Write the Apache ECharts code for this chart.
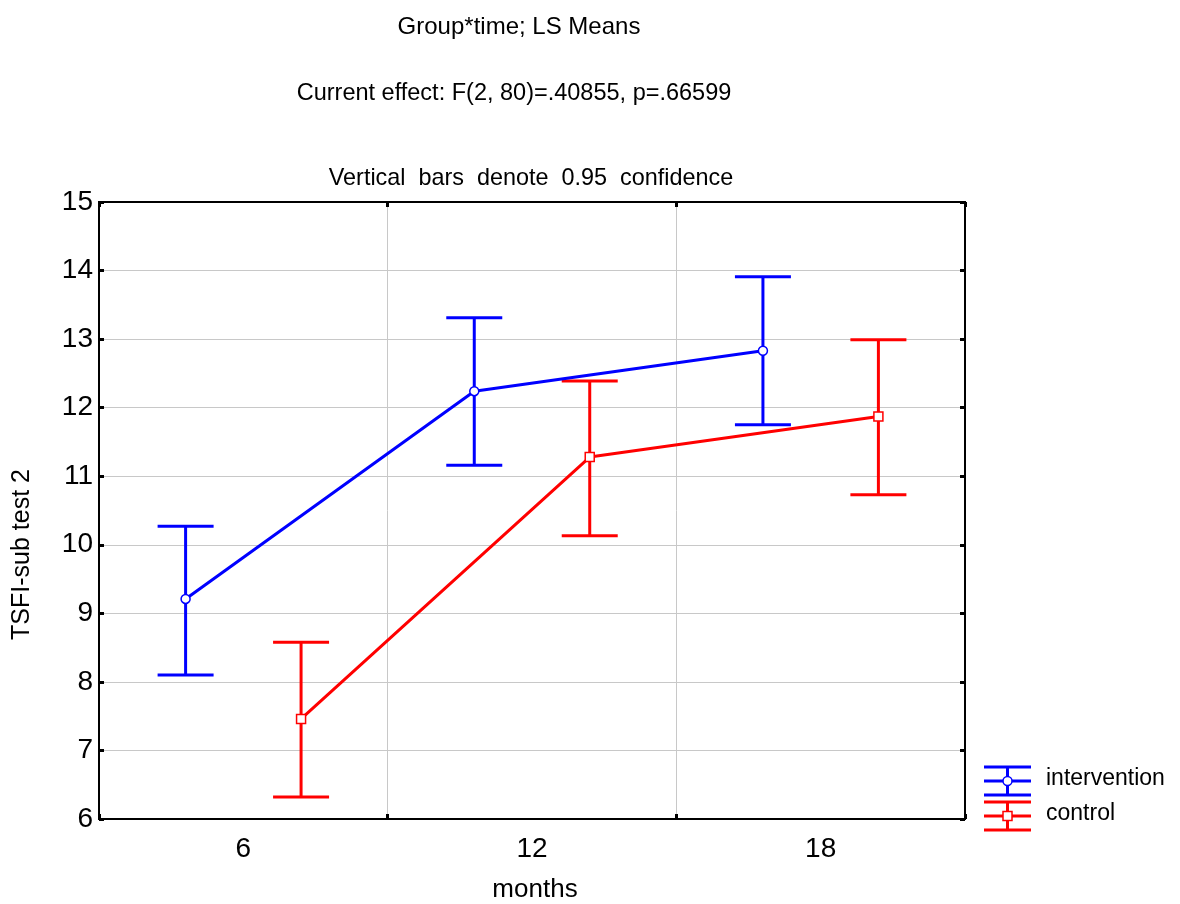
<!DOCTYPE html>
<html>
<head>
<meta charset="utf-8">
<title>Group*time; LS Means</title>
<script src="https://cdn.jsdelivr.net/npm/echarts@6/dist/echarts.min.js"></script>
<style>
  html, body { margin: 0; padding: 0; background: #ffffff; }
  #chart { width: 1180px; height: 904px; }
</style>
</head>
<body>
<div id="chart"></div>
<script>
// LS means with 0.95 confidence limits, by group and follow-up month
const months = ['6', '12', '18'];
const yTicks = [6, 7, 8, 9, 10, 11, 12, 13, 14, 15];

const interventionMean  = [9.21, 12.24, 12.83];
const interventionLower = [8.10, 11.16, 11.75];
const interventionUpper = [10.27, 13.31, 13.91];

const controlMean  = [7.46, 11.28, 11.87];
const controlLower = [6.32, 10.13, 10.73];
const controlUpper = [8.58, 12.39, 12.99];

// Horizontal shift of each group inside a month band (fraction of the band)
const GROUP_SHIFT = 0.2;
const CAP_HALF = 28;
const FONT = 'Liberation Sans, Arial, sans-serif';
const BLUE = '#0000ff';
const RED = '#ff0000';

// x position on the hidden 0..3 value axis: band centre plus group shift
function xPos(i, shift) { return i + 0.5 + shift; }

function pointData(means, shift) {
  return means.map((v, i) => [xPos(i, shift), v]);
}
function barData(lower, upper, shift) {
  return lower.map((lo, i) => [xPos(i, shift), lo, upper[i]]);
}

function errorBarRenderer(color) {
  return function (params, api) {
    const x = api.value(0);
    const top = api.coord([x, api.value(2)]);
    const bot = api.coord([x, api.value(1)]);
    const style = { stroke: color, lineWidth: 3, fill: null };
    return {
      type: 'group',
      children: [
        { type: 'line', shape: { x1: top[0], y1: top[1], x2: bot[0], y2: bot[1] }, style },
        { type: 'line', shape: { x1: top[0] - CAP_HALF, y1: top[1], x2: top[0] + CAP_HALF, y2: top[1] }, style },
        { type: 'line', shape: { x1: bot[0] - CAP_HALF, y1: bot[1], x2: bot[0] + CAP_HALF, y2: bot[1] }, style }
      ]
    };
  };
}

// Legend keys: whisker glyph with the group's marker
function legendKey(y, color, markerShape) {
  const style = { stroke: color, lineWidth: 3, fill: null };
  const x0 = 984, x1 = 1031, xm = 1007.5;
  const marker = markerShape === 'circle'
    ? { type: 'circle', shape: { cx: xm, cy: y, r: 4.5 }, style: { fill: '#fff', stroke: color, lineWidth: 1.5 }, z: 10 }
    : { type: 'rect', shape: { x: xm - 4.5, y: y - 4.5, width: 9, height: 9 }, style: { fill: '#fff', stroke: color, lineWidth: 1.5 }, z: 10 };
  return [
    { type: 'line', shape: { x1: x0, y1: y - 14, x2: x1, y2: y - 14 }, style },
    { type: 'line', shape: { x1: x0, y1: y, x2: x1, y2: y }, style },
    { type: 'line', shape: { x1: x0, y1: y + 14, x2: x1, y2: y + 14 }, style },
    { type: 'line', shape: { x1: xm, y1: y - 14, x2: xm, y2: y + 14 }, style },
    marker
  ];
}

const chart = echarts.init(document.getElementById('chart'));

const titleStyle = (size) => ({ fontFamily: FONT, fontSize: size, fontWeight: 'normal', color: '#000' });

const option = {
  animation: false,
  backgroundColor: '#ffffff',
  title: [
    { text: 'Group*time; LS Means', left: 519, top: 15, padding: 0, textAlign: 'center', textStyle: titleStyle(24) },
    { text: 'Current effect: F(2, 80)=.40855, p=.66599', left: 514, top: 82, padding: 0, textAlign: 'center', textStyle: titleStyle(23.5) },
    { text: 'Vertical  bars  denote  0.95  confidence', left: 531, top: 167, padding: 0, textAlign: 'center', textStyle: titleStyle(23.4) }
  ],
  grid: {
    left: 99, right: 215, top: 202, bottom: 85,
    outerBoundsMode: 'none', containLabel: false,
    show: true, borderColor: '#000', borderWidth: 2, backgroundColor: '#fff'
  },
  xAxis: [
    {
      type: 'category', data: months, position: 'bottom', boundaryGap: true,
      name: 'months', nameLocation: 'middle', nameGap: 58,
      nameTextStyle: { fontFamily: FONT, fontSize: 26, color: '#000', padding: [0, 0, 0, 6] },
      axisLine: { show: true, lineStyle: { color: '#000', width: 2 } },
      axisTick: { show: true, inside: true, length: 5, lineStyle: { color: '#000', width: 3 } },
      axisLabel: { fontFamily: FONT, fontSize: 28, color: '#000', margin: 16 },
      splitLine: { show: true, lineStyle: { color: '#c8c8c8', width: 1 } }
    },
    {
      // hidden positioning axis for the shifted group marks; also carries the top ticks
      type: 'value', min: 0, max: 3, interval: 1, position: 'top',
      axisLine: { show: true, lineStyle: { color: '#000', width: 2 } },
      axisTick: { show: true, inside: true, length: 5, lineStyle: { color: '#000', width: 3 } },
      axisLabel: { show: false },
      splitLine: { show: false }
    }
  ],
  yAxis: [
    {
      type: 'value', min: yTicks[0], max: yTicks[yTicks.length - 1], interval: 1,
      name: 'TSFI-sub test 2', nameLocation: 'middle', nameGap: 64, nameRotate: 90,
      nameTextStyle: { fontFamily: FONT, fontSize: 25, color: '#000', padding: [0, 88, 0, 0] },
      axisLine: { show: true, lineStyle: { color: '#000', width: 2 } },
      axisTick: { show: true, inside: true, length: 5, lineStyle: { color: '#000', width: 3 } },
      axisLabel: { fontFamily: FONT, fontSize: 28, color: '#000', margin: 6 },
      splitLine: { show: true, lineStyle: { color: '#c8c8c8', width: 1 } }
    },
    {
      type: 'value', min: yTicks[0], max: yTicks[yTicks.length - 1], interval: 1, position: 'right',
      axisLine: { show: true, lineStyle: { color: '#000', width: 2 } },
      axisTick: { show: true, inside: true, length: 5, lineStyle: { color: '#000', width: 3 } },
      axisLabel: { show: false },
      splitLine: { show: false }
    }
  ],
  series: [
    {
      name: 'intervention bars', type: 'custom', xAxisIndex: 1, yAxisIndex: 0,
      renderItem: errorBarRenderer(BLUE),
      data: barData(interventionLower, interventionUpper, -GROUP_SHIFT),
      encode: { x: 0, y: [1, 2] }, z: 2
    },
    {
      name: 'control bars', type: 'custom', xAxisIndex: 1, yAxisIndex: 0,
      renderItem: errorBarRenderer(RED),
      data: barData(controlLower, controlUpper, GROUP_SHIFT),
      encode: { x: 0, y: [1, 2] }, z: 2
    },
    {
      name: 'intervention', type: 'line', xAxisIndex: 1, yAxisIndex: 0,
      data: pointData(interventionMean, -GROUP_SHIFT),
      symbol: 'circle', symbolSize: 9, showAllSymbol: true,
      lineStyle: { color: BLUE, width: 3 },
      itemStyle: { color: '#fff', borderColor: BLUE, borderWidth: 1.5 }, z: 3
    },
    {
      name: 'control', type: 'line', xAxisIndex: 1, yAxisIndex: 0,
      data: pointData(controlMean, GROUP_SHIFT),
      symbol: 'rect', symbolSize: 9, showAllSymbol: true,
      lineStyle: { color: RED, width: 3 },
      itemStyle: { color: '#fff', borderColor: RED, borderWidth: 1.5 }, z: 3
    }
  ],
  graphic: [
    { type: 'group', children: legendKey(781, BLUE, 'circle') },
    { type: 'group', children: legendKey(816, RED, 'rect') },
    { type: 'text', left: 1046, top: 767,
      style: { text: 'intervention', font: '23px ' + FONT, fill: '#000' } },
    { type: 'text', left: 1046, top: 802,
      style: { text: 'control', font: '23px ' + FONT, fill: '#000' } }
  ]
};

chart.setOption(option);
</script>
</body>
</html>
